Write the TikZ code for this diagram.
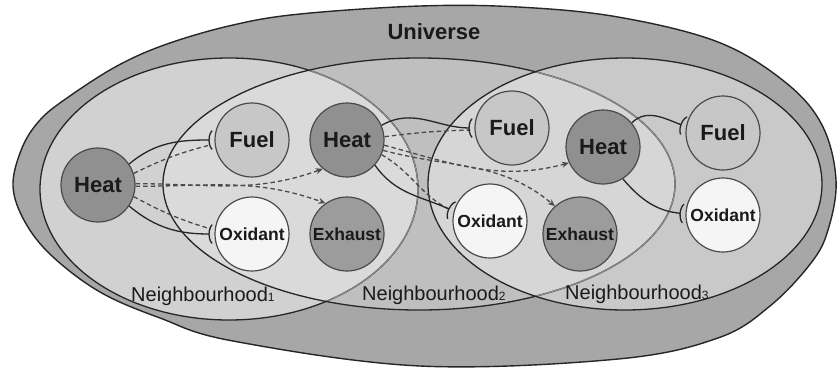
\documentclass[tikz,border=0pt]{standalone}
\usepackage{fontspec}
\setmainfont{Liberation Sans}
\usetikzlibrary{arrows.meta}
\definecolor{univcol}{HTML}{A7A7A7}
\definecolor{nAcol}{HTML}{D1D1D1}
\definecolor{nBcol}{HTML}{BFBFBF}
\definecolor{nCcol}{HTML}{C9C9C9}
\definecolor{nABcol}{HTML}{DADADA}
\definecolor{nBCcol}{HTML}{D6D6D6}
\definecolor{lngrey}{HTML}{8A8A8A}
\definecolor{circline}{HTML}{4A4A4A}
\definecolor{heatfill}{HTML}{909090}
\definecolor{exhfill}{HTML}{9C9C9C}
\definecolor{fuelfill}{HTML}{C7C7C7}
\definecolor{oxfill}{HTML}{F5F5F5}
\definecolor{txt}{HTML}{1A1A1A}
\definecolor{dashcol}{HTML}{4A4A4A}
\definecolor{soldcol}{HTML}{262626}
\newcommand\nsub[1]{{\fontsize{12}{12}\selectfont #1}}
\begin{document}
\begin{tikzpicture}[x=1pt,y=-1pt,
  state/.style={circle, draw=circline, line width=1.2pt, minimum size=74pt, inner sep=0pt, text=txt},
  big/.style={font=\fontsize{22}{24}\selectfont\bfseries},
  small/.style={font=\fontsize{17.5}{19}\selectfont\bfseries},
  heatnode/.style={state, big, fill=heatfill},
  fuelnode/.style={state, big, fill=fuelfill},
  oxnode/.style={state, small, fill=oxfill},
  exhnode/.style={state, small, fill=exhfill},
  nlabel/.style={anchor=base west, inner sep=0pt, text=txt, font=\fontsize{20}{22}\selectfont},
  ellline/.style={draw=soldcol, line width=1.3pt},
  ellgrey/.style={draw=lngrey, line width=1.2pt},
  inh/.style={draw=soldcol, line width=1.3pt, -{Arc Barb[reversed, arc=130, width=22pt, length=6pt]}, shorten >=2pt},
  dashinh/.style={draw=dashcol, line width=1.3pt, dash pattern=on 4.5pt off 3pt, shorten >=4pt},
  dasharr/.style={draw=dashcol, line width=1.3pt, dash pattern=on 4.5pt off 3pt, -{Stealth[length=7pt, width=6pt]}},
]
\useasboundingbox (0,0) rectangle (838,368);
\def\NA{(229,189) ellipse [x radius=189pt, y radius=131pt]}
\def\NB{(419,184) ellipse [x radius=256pt, y radius=126pt]}
\def\NC{(625,184) ellipse [x radius=197pt, y radius=126pt]}
% universe
\path[fill=univcol, draw=soldcol, line width=1.4pt] plot[smooth cycle, tension=0.6] coordinates {
 (13,186) (22,148) (40,120) (67,98) (117,66) (167,44) (233,25) (300,14) (420,6) (518,7) (618,17) (718,42) (785,82) (822,125) (836,180) (828,230) (811,263) (770,306) (718,338) (618,359) (420,366) (233,341) (160,318) (100,292) (52,256) (25,222)};
% neighbourhood fills
\fill[nAcol] \NA;
\fill[nBcol] \NB;
\fill[nCcol] \NC;
\begin{scope}\clip \NA; \fill[nABcol] \NB;\end{scope}
\begin{scope}\clip \NC; \fill[nBCcol] \NB;\end{scope}
% neighbourhood outlines
\draw[ellline] \NA;
\begin{scope}\clip \NB; \draw[ellgrey] \NA;\end{scope}
\draw[ellline] \NB;
\begin{scope}\clip \NC; \draw[ellgrey] \NB;\end{scope}
\draw[ellline] \NC;
% labels
\node[text=txt, font=\fontsize{22}{24}\selectfont\bfseries] (univ) at (434,32) {Universe};
\node[nlabel] (labA) at (131,301) {Neighbourhood\nsub{1}};
\node[nlabel] (labB) at (362,300) {Neighbourhood\nsub{2}};
\node[nlabel] (labC) at (565,299) {Neighbourhood\nsub{3}};
% nodes
\node[heatnode] (h1) at (98,185) {Heat};
\node[fuelnode] (f1) at (252,140) {Fuel};
\node[oxnode] (o1) at (252,234) {Oxidant};
\node[heatnode] (h2) at (347,140) {Heat};
\node[exhnode] (e1) at (347,234) {Exhaust};
\node[fuelnode] (f2) at (512,128) {Fuel};
\node[oxnode] (o2) at (490,221) {Oxidant};
\node[heatnode] (h3) at (603,147) {Heat};
\node[exhnode] (e2) at (580,234) {Exhaust};
\node[fuelnode] (f3) at (723,133) {Fuel};
\node[oxnode] (o3) at (723,215) {Oxidant};
% connectors from h1
\draw[dashinh] (h1.18) to[bend left=6] (f1.186);
\draw[dashinh] (h1.-18) to[bend right=6] (o1.174);
\draw[dasharr] (h1.2) to[out=0,in=200] (h2.230);
\draw[dasharr] (h1.-2) to[out=0,in=160] (e1.125);
\draw[inh] (h1.34) to[out=40,in=180] (f1.west);
\draw[inh] (h1.-34) to[out=-40,in=180] (o1.west);
% connectors from h2
\draw[dashinh] (h2.5) to[bend left=3] (f2.183);
\draw[dashinh] (h2.-23) to[out=-30,in=155] (o2.165);
\draw[dasharr] (h2.-8) to[out=-15,in=195] (h3.205);
\draw[dasharr] (h2.-16) to[out=-15,in=140] (e2.132);
\draw[inh] (h2.23) to[out=30,in=180] (f2.west);
\draw[inh] (h2.-42) to[out=-55,in=155] (o2.165);
% connectors from h3
\draw[inh] (h3.40) to[out=45,in=160] (f3.170);
\draw[inh] (h3.-58) to[out=-50,in=175] (o3.178);
\end{tikzpicture}
\end{document}
